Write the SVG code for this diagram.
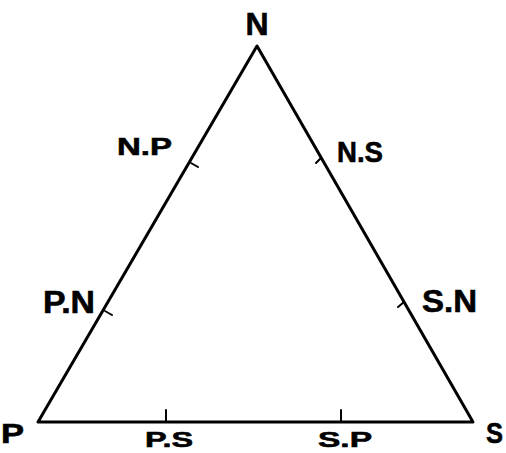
<svg xmlns="http://www.w3.org/2000/svg" width="506" height="453" viewBox="0 0 506 453">
<style>
.lbl{font-family:"Liberation Sans",Arial,sans-serif;font-weight:bold;fill:#000;stroke:#000;stroke-width:0.6}
.edge{stroke:#000;stroke-width:3;fill:none;stroke-linecap:round;stroke-linejoin:round}
.tick{stroke:#000;stroke-width:2;fill:none;stroke-linecap:round}
</style>
<rect width="506" height="453" fill="#fff"/>
<g id="connectors">
<path class="edge" d="M38,422 L257,46 L473,422 Z"/>
<path class="tick" d="M191,163 L198,167"/>
<path class="tick" d="M321,158 L316,163"/>
<path class="tick" d="M105,311 L112,315"/>
<path class="tick" d="M404,302 L398,307"/>
<path class="tick" d="M166,410 L166,422"/>
<path class="tick" d="M341,410 L341,422"/>
</g>
<g id="N"><text class="lbl" x="257" y="35" font-size="32" text-anchor="middle">N</text></g>
<g id="P"><text class="lbl" x="1" y="443" font-size="27" textLength="23" lengthAdjust="spacingAndGlyphs">P</text></g>
<g id="S"><text class="lbl" x="486" y="443" font-size="30" textLength="17" lengthAdjust="spacingAndGlyphs">S</text></g>
<g id="NP"><text class="lbl" x="117" y="155" font-size="24" textLength="55" lengthAdjust="spacingAndGlyphs">N.P</text></g>
<g id="NS"><text class="lbl" x="337" y="162" font-size="29" textLength="46" lengthAdjust="spacingAndGlyphs">N.S</text></g>
<g id="PN"><text class="lbl" x="43" y="313" font-size="31" textLength="52" lengthAdjust="spacingAndGlyphs">P.N</text></g>
<g id="SN"><text class="lbl" x="422" y="312" font-size="31" textLength="55" lengthAdjust="spacingAndGlyphs">S.N</text></g>
<g id="PS"><text class="lbl" x="145" y="447" font-size="22" textLength="48" lengthAdjust="spacingAndGlyphs">P.S</text></g>
<g id="SP"><text class="lbl" x="318" y="447" font-size="22" textLength="54" lengthAdjust="spacingAndGlyphs">S.P</text></g>
</svg>
